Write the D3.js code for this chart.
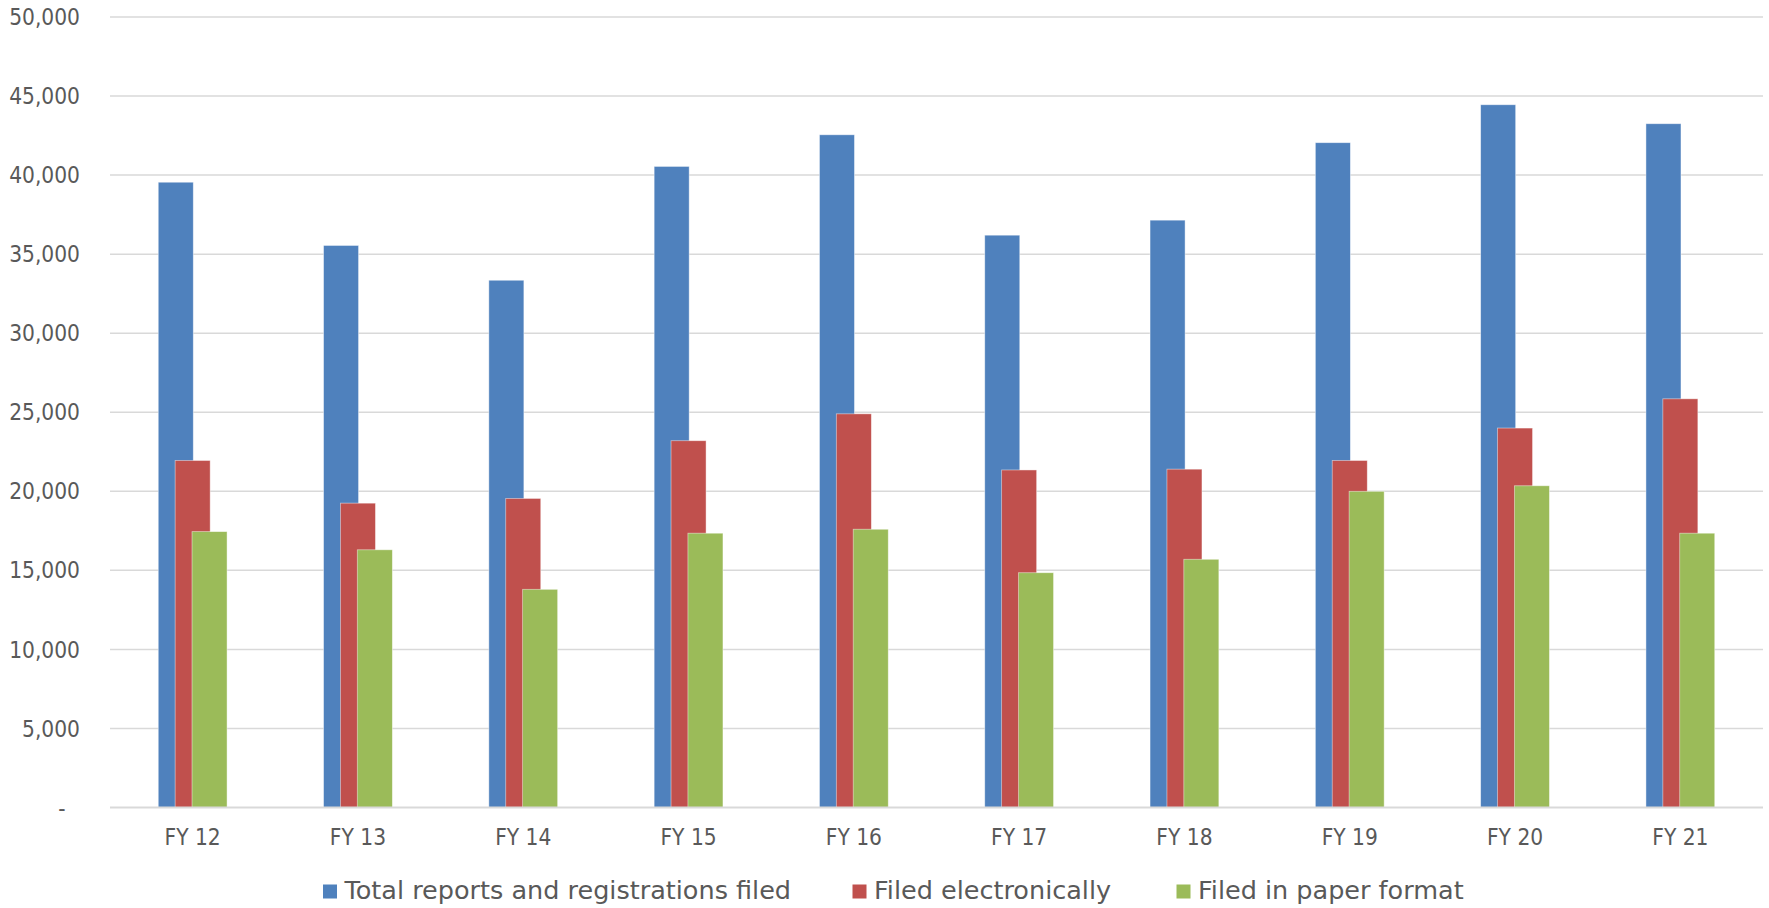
<!DOCTYPE html>
<html>
<head>
<meta charset="utf-8">
<script src="https://cdn.jsdelivr.net/npm/d3@7"></script>
<style>
  html, body { margin: 0; padding: 0; background: #fff; }
  svg { display: block; }
  text { font-family: "DejaVu Sans Condensed", "DejaVu Sans", sans-serif; fill: #595959; }
  .legend text { font-family: "DejaVu Sans", sans-serif; }
</style>
</head>
<body>
<svg id="chart" width="1769" height="908"></svg>
<script>
const categories = ["FY 12", "FY 13", "FY 14", "FY 15", "FY 16", "FY 17", "FY 18", "FY 19", "FY 20", "FY 21"];
const seriesNames = ["Total reports and registrations filed", "Filed electronically", "Filed in paper format"];
const totalFiled = [39550, 35550, 33350, 40550, 42550, 36200, 37150, 42050, 44450, 43250];
const filedElectronically = [21950, 19250, 19550, 23200, 24900, 21350, 21400, 21950, 24000, 25850];
const filedPaper = [17450, 16300, 13800, 17350, 17600, 14850, 15700, 20000, 20350, 17350];
const yTicks = [0, 5000, 10000, 15000, 20000, 25000, 30000, 35000, 40000, 45000, 50000];
const colors = ["#4F81BD", "#C0504D", "#9BBB59"];

const series = [totalFiled, filedElectronically, filedPaper];

const svg = d3.select("#chart");
const plotLeft = 110, plotRight = 1763, plotTop = 17, plotBottom = 807.5;

const x = d3.scaleBand().domain(categories).range([plotLeft, plotRight]).padding(0);
const y = d3.scaleLinear().domain([0, 50000]).range([plotBottom, plotTop]);

const barW = x.bandwidth() * 0.212;
const step = barW * 0.482;
const offset = d3.scaleLinear().domain([0, 2]).range([-step, step]);

// gridlines
svg.append("g").selectAll("line").data(yTicks.filter(d => d > 0)).join("line")
  .attr("x1", plotLeft).attr("x2", plotRight)
  .attr("y1", d => y(d)).attr("y2", d => y(d))
  .attr("stroke", "#d9d9d9").attr("stroke-width", 1.5);

// y labels
const fmt = d3.format(",");
svg.append("g").selectAll("text").data(yTicks).join("text")
  .attr("x", d => d === 0 ? 62 : 80)
  .attr("y", d => y(d))
  .attr("dy", "0.36em")
  .attr("text-anchor", d => d === 0 ? "middle" : "end")
  .style("font-size", "22.5px")
  .text(d => d === 0 ? "-" : fmt(d));

// bars
series.forEach((vals, si) => {
  svg.append("g").selectAll("rect").data(vals).join("rect")
    .attr("x", (d, i) => x(categories[i]) + x.bandwidth() / 2 + offset(si) - barW / 2)
    .attr("y", d => y(d))
    .attr("width", barW)
    .attr("height", d => y(0) - y(d))
    .attr("fill", colors[si])
    .attr("stroke", "rgba(255,255,255,0.55)")
    .attr("stroke-width", 0.8);
});

// x axis line
svg.append("line")
  .attr("x1", plotLeft).attr("x2", plotRight)
  .attr("y1", y(0)).attr("y2", y(0))
  .attr("stroke", "#d9d9d9").attr("stroke-width", 1.8);

// x labels
svg.append("g").selectAll("text").data(categories).join("text")
  .attr("x", d => x(d) + x.bandwidth() / 2)
  .attr("y", 845)
  .attr("text-anchor", "middle")
  .style("font-size", "22.5px")
  .text(d => d);

// legend
const legendX = [323, 852.5, 1176.5];
const lg = svg.append("g").attr("class", "legend");
seriesNames.forEach((name, i) => {
  lg.append("rect")
    .attr("x", legendX[i]).attr("y", 884.5)
    .attr("width", 14).attr("height", 14)
    .attr("fill", colors[i]);
  lg.append("text")
    .attr("x", legendX[i] + 21.5)
    .attr("y", 898.5)
    .style("font-size", "25.5px")
    .text(name);
});
</script>
</body>
</html>
